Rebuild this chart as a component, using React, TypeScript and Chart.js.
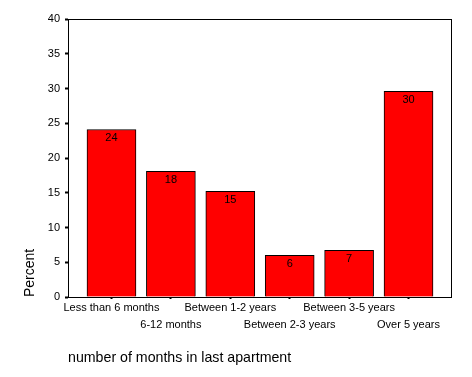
import React, { useEffect, useRef } from "react";
import { Chart, registerables } from "chart.js";

Chart.register(...registerables);

const categories = [
  "Less than 6 months",
  "6-12 months",
  "Between 1-2 years",
  "Between 2-3 years",
  "Between 3-5 years",
  "Over 5 years",
];
const percentValues = [24.1, 18.1, 15.2, 6.0, 6.7, 29.6];
const valueLabels = ["24", "18", "15", "6", "7", "30"];
const yTicks = [0, 5, 10, 15, 20, 25, 30, 35, 40];

const FONT = "'Liberation Sans', Arial, sans-serif";

const framePlugin = {
  id: "frame",
  afterDatasetsDraw(chart: any) {
    const { ctx, chartArea } = chart;
    ctx.save();
    ctx.strokeStyle = "#000";
    ctx.lineWidth = 1;
    ctx.strokeRect(
      Math.round(chartArea.left) + 0.5,
      Math.round(chartArea.top) + 0.5,
      Math.round(chartArea.right - chartArea.left) - 1,
      Math.round(chartArea.bottom - chartArea.top)
    );
    const meta = chart.getDatasetMeta(0);
    ctx.fillStyle = "#000";
    ctx.font = `11px ${FONT}`;
    ctx.textAlign = "center";
    ctx.textBaseline = "middle";
    meta.data.forEach((bar: any, i: number) => {
      ctx.fillText(valueLabels[i], bar.x, bar.y + 8.5);
    });
    ctx.restore();
  },
};

export default function App() {
  const ref = useRef<HTMLCanvasElement | null>(null);
  useEffect(() => {
    document.body.style.margin = "0";
    const chart = new Chart(ref.current as HTMLCanvasElement, {
      type: "bar",
      data: {
        datasets: [
          {
            data: percentValues.map((v, i) => ({ x: i, y: v })),
            backgroundColor: "#ff0000",
            borderColor: "#000000",
            borderWidth: 1,
            barThickness: 49,
          },
        ],
      },
      options: {
        animation: false,
        responsive: true,
        maintainAspectRatio: false,
        layout: { padding: { top: 19, right: 20, left: 0, bottom: 0 } },
        plugins: { legend: { display: false }, tooltip: { enabled: false } },
        scales: {
          x: {
            type: "linear",
            offset: false,
            min: -0.732,
            max: 5.732,
            afterBuildTicks: (scale: any) => {
              scale.ticks = categories.map((_, i) => ({ value: i }));
            },
            afterFit: (scale: any) => {
              scale.height = 80;
            },
            grid: {
              offset: false,
              drawOnChartArea: false,
              drawTicks: true,
              tickLength: 2,
              tickWidth: 2,
              tickColor: "#000",
            },
            border: { display: false },
            ticks: {
              autoSkip: false,
              maxRotation: 0,
              padding: 0,
              color: "#000",
              font: { family: FONT, size: 11, lineHeight: 1.57 },
              callback: (value: any) => {
                const i = Math.round(Number(value));
                const t = categories[i];
                return i % 2 === 0 ? t : ["", t];
              },
            },
            title: {
              display: true,
              text: "number of months in last apartment",
              align: "start",
              color: "#000",
              font: { family: FONT, size: 14.2 },
              padding: { top: 10, bottom: 10 },
            },
          },
          y: {
            min: 0,
            max: 40,
            afterBuildTicks: (scale: any) => {
              scale.ticks = yTicks.map((v) => ({ value: v }));
            },
            afterFit: (scale: any) => {
              scale.width = 68;
            },
            grid: {
              drawOnChartArea: false,
              drawTicks: true,
              tickLength: 3,
              tickWidth: 2,
              tickColor: "#000",
            },
            border: { display: false },
            ticks: {
              padding: 5,
              color: "#000",
              font: { family: FONT, size: 11 },
            },
            title: {
              display: true,
              text: "Percent",
              align: "start",
              color: "#000",
              font: { family: FONT, size: 14 },
              padding: { top: 22, bottom: 0 },
            },
          },
        },
      },
      plugins: [framePlugin],
    } as any);
    return () => chart.destroy();
  }, []);
  return (
    <div style={{ width: 472, height: 377, position: "relative" }}>
      <canvas ref={ref} />
    </div>
  );
}
